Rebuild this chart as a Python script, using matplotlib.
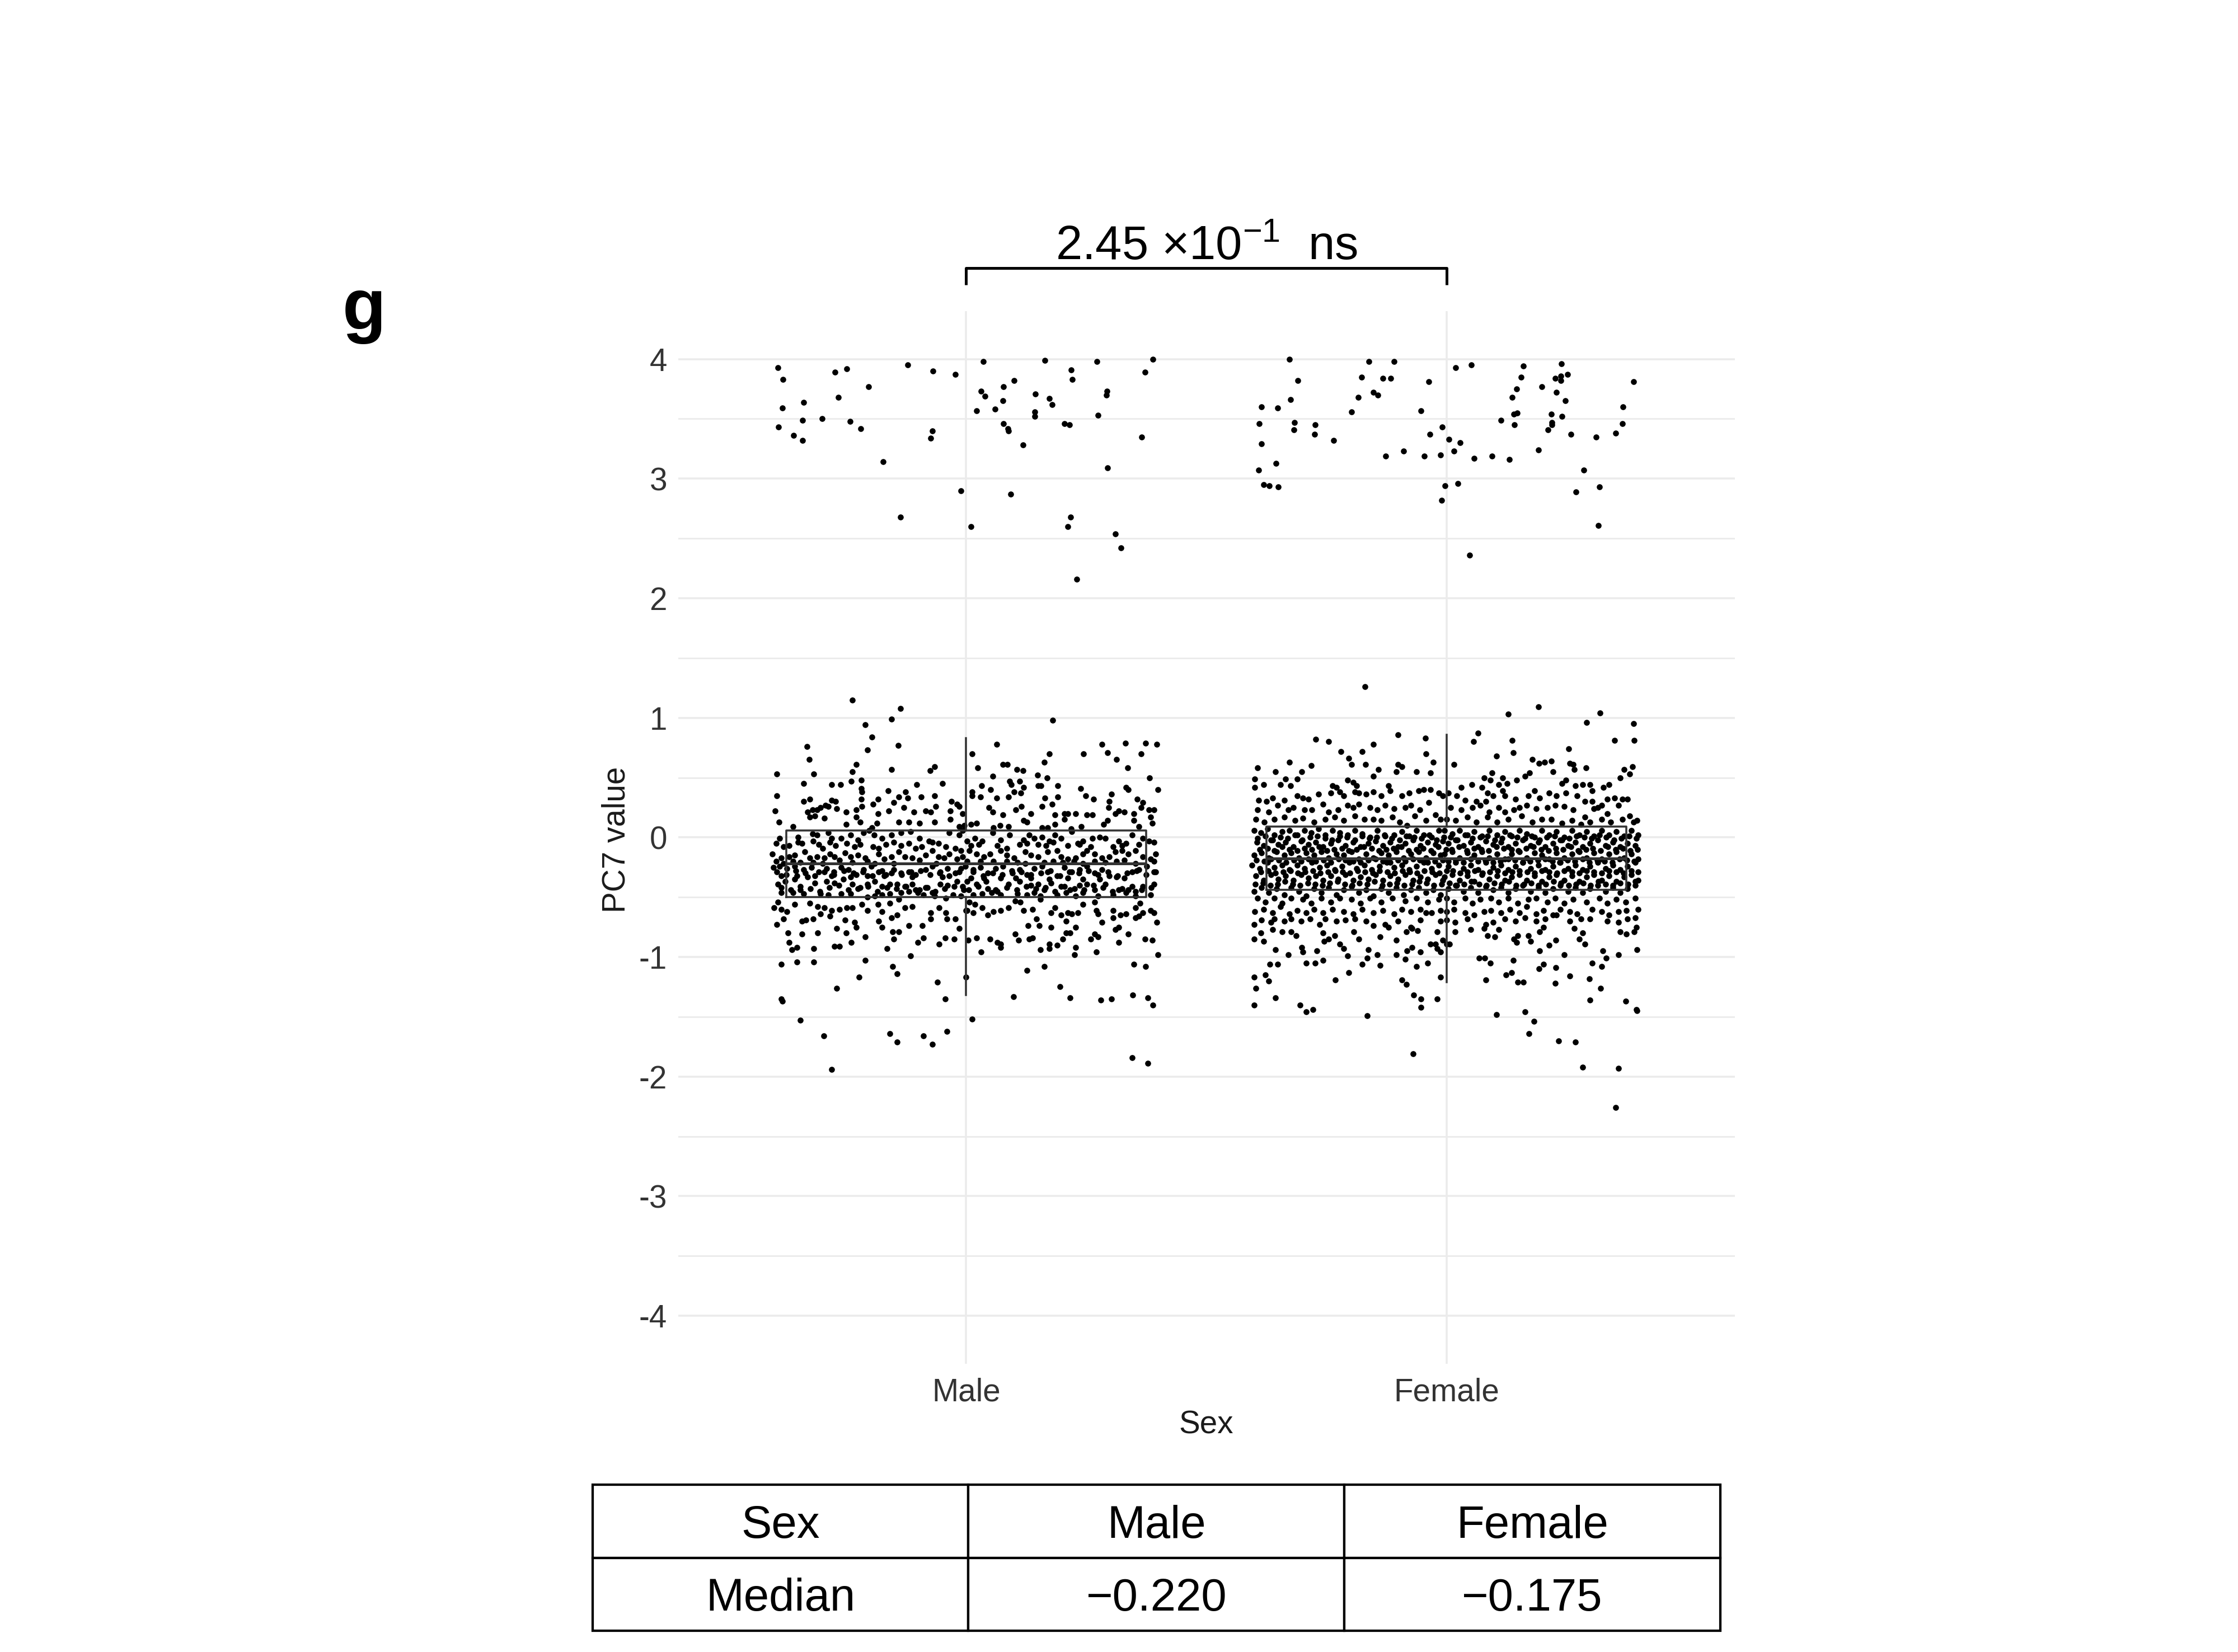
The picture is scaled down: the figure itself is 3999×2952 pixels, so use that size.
import matplotlib.pyplot as plt

plt.rcParams['font.family'] = ['Liberation Sans', 'DejaVu Sans']
plt.rcParams['mathtext.default'] = 'regular'

# groups and summary values
groups = ['Male', 'Female']
medians = [-0.220, -0.175]
q1 = [-0.50, -0.44]
q3 = [0.06, 0.09]
whisker_lo = [-1.32, -1.21]
whisker_hi = [0.83, 0.86]
p_label = '2.45 ×10$^{-1}$  ns'
y_ticks = [4, 3, 2, 1, 0, -1, -2, -3, -4]
y_tick_labels = ['4', '3', '2', '1', '0', '-1', '-2', '-3', '-4']
table_rows = [['Sex', 'Male', 'Female'],
              ['Median', '\u22120.220', '\u22120.175']]

# (jitter offset, PC7 value)
male_points = [
    # upper cluster
    (-0.392,3.93),(-0.382,3.83),(-0.273,3.89),(-0.249,3.92),(-0.122,3.95),(-0.069,3.90),(-0.023,3.87),(0.036,3.98),
    (0.164,3.99),(0.272,3.98),(0.389,4.00),(0.218,3.91),(0.221,3.83),(0.372,3.89),(0.100,3.82),(-0.203,3.77),
    (0.077,3.77),(0.031,3.73),(0.039,3.69),(0.144,3.71),(0.293,3.73),(0.292,3.70),(-0.266,3.68),(-0.338,3.64),
    (0.076,3.65),(0.173,3.67),(0.179,3.62),(-0.383,3.59),(0.022,3.57),(0.060,3.58),(0.143,3.56),(0.143,3.52),
    (0.274,3.53),(-0.341,3.49),(-0.300,3.50),(-0.242,3.48),(-0.391,3.43),(-0.220,3.42),(0.078,3.46),(0.087,3.42),
    (0.088,3.40),(0.205,3.46),(0.215,3.45),(-0.070,3.40),(-0.074,3.34),(-0.359,3.36),(-0.341,3.32),(0.365,3.35),
    (0.118,3.28),(-0.173,3.14),(0.294,3.09),(-0.011,2.90),(0.093,2.87),(-0.137,2.68),(0.010,2.60),(0.217,2.68),
    (0.212,2.60),(0.310,2.54),(0.322,2.42),(0.230,2.16),
    # left half, above box
    (-0.237,1.15),(-0.137,1.08),(-0.156,0.99),(-0.210,0.94),(-0.196,0.84),(-0.331,0.76),(-0.141,0.77),(-0.206,0.73),
    (-0.327,0.65),(-0.394,0.53),(-0.318,0.53),(-0.229,0.61),(-0.237,0.55),(-0.155,0.57),(-0.075,0.56),(-0.066,0.59),
    (-0.338,0.45),(-0.280,0.44),(-0.262,0.44),(-0.240,0.47),(-0.219,0.48),(-0.219,0.41),(-0.217,0.38),(-0.103,0.44),
    (-0.050,0.45),(-0.394,0.35),(-0.162,0.39),(-0.126,0.38),(-0.140,0.34),(-0.122,0.33),(-0.094,0.34),(-0.066,0.35),
    (-0.326,0.32),(-0.338,0.30),(-0.280,0.31),(-0.272,0.30),(-0.219,0.32),(-0.184,0.32),(-0.151,0.29),(-0.194,0.28),
    (-0.031,0.30),(-0.019,0.28),(-0.015,0.26),(-0.398,0.22),(-0.330,0.21),(-0.320,0.23),(-0.311,0.23),(-0.303,0.25),
    (-0.293,0.27),(-0.287,0.26),(-0.270,0.24),(-0.250,0.21),(-0.229,0.23),(-0.217,0.26),(-0.161,0.22),(-0.130,0.25),
    (-0.109,0.21),(-0.085,0.22),(-0.074,0.21),(-0.064,0.26),(-0.033,0.22),(-0.007,0.20),(-0.326,0.17),(-0.315,0.18),
    (-0.295,0.16),(-0.229,0.17),(-0.184,0.20),(-0.390,0.13),(-0.361,0.09),(-0.250,0.11),(-0.221,0.13),(-0.196,0.08),
    (-0.186,0.12),(-0.140,0.13),(-0.120,0.13),(-0.097,0.12),(-0.066,0.13),(-0.033,0.15),(-0.015,0.09),(-0.004,0.10),
    # left half, box region
    (-0.389,-0.01),(-0.350,0.00),(-0.320,0.03),(-0.311,0.02),(-0.287,0.04),(-0.280,-0.01),(-0.260,-0.01),(-0.241,0.02),
    (-0.225,-0.02),(-0.214,0.04),(-0.202,0.06),(-0.192,0.02),(-0.175,-0.01),(-0.155,0.02),(-0.136,0.04),(-0.116,0.05),
    (-0.097,-0.01),(-0.077,-0.03),(-0.035,0.04),(-0.015,0.02),(-0.007,0.06),
    (-0.396,-0.05),(-0.381,-0.08),(-0.369,-0.07),(-0.350,-0.04),(-0.342,-0.05),(-0.319,-0.03),(-0.307,-0.06),(-0.299,-0.09),
    (-0.284,-0.04),(-0.272,-0.07),(-0.249,-0.05),(-0.233,-0.08),(-0.221,-0.06),(-0.194,-0.08),(-0.182,-0.09),(-0.167,-0.06),
    (-0.151,-0.04),(-0.136,-0.07),(-0.120,-0.05),(-0.105,-0.09),(-0.093,-0.08),(-0.070,-0.04),(-0.058,-0.05),(-0.042,-0.08),
    (-0.023,-0.09),(-0.011,-0.11),
    (-0.404,-0.14),(-0.385,-0.17),(-0.369,-0.16),(-0.357,-0.15),(-0.336,-0.12),(-0.326,-0.17),(-0.311,-0.16),(-0.295,-0.17),
    (-0.284,-0.14),(-0.274,-0.16),(-0.264,-0.19),(-0.252,-0.13),(-0.241,-0.16),(-0.225,-0.15),(-0.210,-0.17),(-0.182,-0.14),
    (-0.171,-0.18),(-0.155,-0.16),(-0.140,-0.12),(-0.128,-0.16),(-0.112,-0.17),(-0.097,-0.19),(-0.085,-0.15),(-0.070,-0.11),
    (-0.058,-0.16),(-0.046,-0.17),(-0.035,-0.14),(-0.019,-0.18),(-0.007,-0.16),(-0.396,-0.20),(-0.381,-0.22),(-0.361,-0.20),
    (-0.346,-0.21),(-0.319,-0.21),(-0.299,-0.22),(-0.237,-0.21),(-0.206,-0.20),(-0.190,-0.22),(-0.151,-0.22),(-0.062,-0.22),
    (-0.402,-0.25),(-0.389,-0.24),(-0.373,-0.26),(-0.357,-0.24),(-0.338,-0.27),(-0.322,-0.25),(-0.307,-0.29),(-0.291,-0.26),
    (-0.276,-0.29),(-0.260,-0.25),(-0.245,-0.27),(-0.229,-0.31),(-0.214,-0.27),(-0.198,-0.24),(-0.182,-0.29),(-0.167,-0.31),
    (-0.151,-0.27),(-0.136,-0.30),(-0.120,-0.29),(-0.105,-0.31),(-0.085,-0.27),(-0.070,-0.24),(-0.054,-0.29),(-0.039,-0.26),
    (-0.023,-0.30),(-0.011,-0.26),(-0.385,-0.32),(-0.353,-0.32),(-0.330,-0.33),(-0.280,-0.32),(-0.241,-0.33),(-0.206,-0.32),
    (-0.171,-0.32),(-0.112,-0.33),(-0.050,-0.33),
    (-0.392,-0.39),(-0.377,-0.37),(-0.357,-0.35),(-0.346,-0.44),(-0.315,-0.38),(-0.291,-0.37),(-0.274,-0.38),(-0.256,-0.35),
    (-0.237,-0.39),(-0.221,-0.42),(-0.206,-0.39),(-0.190,-0.37),(-0.175,-0.41),(-0.159,-0.39),(-0.144,-0.39),(-0.128,-0.41),
    (-0.112,-0.39),(-0.097,-0.44),(-0.081,-0.42),(-0.070,-0.46),(-0.054,-0.39),(-0.039,-0.40),(-0.019,-0.37),(-0.007,-0.41),
    (-0.385,-0.46),(-0.361,-0.46),(-0.338,-0.47),(-0.303,-0.47),(-0.287,-0.48),(-0.260,-0.47),(-0.241,-0.47),(-0.206,-0.50),
    (-0.190,-0.49),(-0.175,-0.48),(-0.159,-0.47),(-0.136,-0.46),(-0.120,-0.45),(-0.101,-0.46),(-0.089,-0.48),(-0.066,-0.49),
    (-0.042,-0.51),(-0.027,-0.48),(-0.011,-0.49),
    (-0.395,-0.29),(-0.375,-0.31),(-0.355,-0.28),(-0.335,-0.30),(-0.315,-0.32),(-0.295,-0.29),(-0.275,-0.31),(-0.255,-0.28),
    (-0.235,-0.30),(-0.215,-0.29),(-0.195,-0.32),(-0.175,-0.28),(-0.155,-0.30),(-0.135,-0.31),(-0.115,-0.29),(-0.095,-0.28),
    (-0.075,-0.31),(-0.055,-0.30),(-0.035,-0.32),(-0.015,-0.29),
    (-0.385,-0.42),(-0.365,-0.44),(-0.345,-0.41),(-0.325,-0.43),(-0.305,-0.45),(-0.285,-0.42),(-0.265,-0.40),(-0.245,-0.44),
    (-0.225,-0.43),(-0.205,-0.41),(-0.185,-0.45),(-0.165,-0.42),(-0.145,-0.43),(-0.125,-0.41),(-0.105,-0.44),(-0.085,-0.42),
    (-0.065,-0.45),(-0.045,-0.43),(-0.025,-0.41),(-0.005,-0.44),
    # left half, below box
    (-0.392,-0.54),(-0.400,-0.59),(-0.385,-0.60),(-0.373,-0.62),(-0.357,-0.56),(-0.326,-0.55),(-0.309,-0.58),(-0.295,-0.59),
    (-0.280,-0.61),(-0.264,-0.60),(-0.249,-0.59),(-0.237,-0.59),(-0.217,-0.56),(-0.206,-0.61),(-0.184,-0.56),(-0.175,-0.62),
    (-0.159,-0.55),(-0.140,-0.52),(-0.128,-0.59),(-0.112,-0.58),(-0.074,-0.63),(-0.056,-0.59),(-0.042,-0.63),(0.000,-0.61),
    (-0.394,-0.73),(-0.381,-0.68),(-0.342,-0.70),(-0.334,-0.69),(-0.319,-0.68),(-0.303,-0.64),(-0.284,-0.66),(-0.252,-0.69),
    (-0.233,-0.71),(-0.229,-0.75),(-0.182,-0.70),(-0.175,-0.75),(-0.155,-0.67),(-0.144,-0.65),(-0.120,-0.74),(-0.074,-0.68),
    (-0.040,-0.68),(-0.023,-0.68),(-0.015,-0.76),(-0.371,-0.80),(-0.342,-0.81),(-0.309,-0.80),(-0.270,-0.76),(-0.250,-0.80),
    (-0.210,-0.83),(-0.153,-0.79),(-0.151,-0.85),(-0.140,-0.79),(-0.091,-0.74),(-0.101,-0.88),(-0.089,-0.84),(-0.056,-0.89),
    (-0.044,-0.84),(-0.025,-0.85),(-0.369,-0.88),(-0.363,-0.94),(-0.352,-0.92),(-0.317,-0.93),(-0.274,-0.91),(-0.264,-0.91),
    (-0.239,-0.88),(-0.165,-0.93),(-0.385,-1.06),(-0.352,-1.04),(-0.317,-1.04),(-0.210,-1.03),(-0.116,-0.99),(-0.223,-1.17),
    (-0.153,-1.08),(-0.144,-1.14),(-0.270,-1.26),(-0.060,-1.21),(-0.385,-1.35),(-0.383,-1.37),(-0.044,-1.35),(-0.346,-1.53),
    (-0.297,-1.66),(-0.159,-1.64),(-0.144,-1.71),(-0.089,-1.66),(-0.070,-1.73),(-0.040,-1.62),(-0.280,-1.94),
    # right half, above box
    (0.180,0.98),(0.064,0.78),(0.282,0.78),(0.332,0.79),(0.374,0.79),(0.397,0.78),(0.012,0.70),(0.173,0.70),
    (0.244,0.70),(0.294,0.71),(0.364,0.70),(0.313,0.65),(0.076,0.61),(0.086,0.61),(0.024,0.58),(0.162,0.63),
    (0.105,0.57),(0.118,0.56),(0.336,0.58),(0.055,0.51),(0.148,0.52),(0.168,0.50),(0.382,0.50),(0.090,0.47),
    (0.094,0.44),(0.111,0.47),(0.100,0.38),(0.119,0.42),(0.150,0.43),(0.156,0.43),(0.191,0.43),(0.032,0.43),
    (0.012,0.38),(0.012,0.35),(0.030,0.34),(0.051,0.40),(0.064,0.33),(0.088,0.34),(0.114,0.37),(0.164,0.33),
    (0.191,0.34),(0.238,0.41),(0.249,0.35),(0.265,0.32),(0.302,0.36),(0.333,0.42),(0.337,0.40),(0.399,0.40),
    (0.047,0.25),(0.055,0.21),(0.076,0.19),(0.103,0.23),(0.115,0.26),(0.135,0.20),(0.158,0.26),(0.179,0.28),
    (0.185,0.19),(0.205,0.20),(0.212,0.20),(0.228,0.20),(0.251,0.19),(0.263,0.19),(0.298,0.30),(0.296,0.25),
    (0.310,0.20),(0.317,0.22),(0.329,0.21),(0.356,0.32),(0.368,0.29),(0.364,0.25),(0.380,0.23),(0.391,0.23),
    (0.349,0.20),(0.010,0.11),(0.022,0.12),(0.057,0.08),(0.070,0.10),(0.088,0.09),(0.119,0.14),(0.127,0.13),
    (0.158,0.08),(0.170,0.08),(0.185,0.11),(0.205,0.15),(0.218,0.07),(0.240,0.09),(0.286,0.11),(0.294,0.14),
    (0.349,0.14),(0.360,0.09),(0.384,0.17),(0.387,0.12),
    # right half, box region
    (0.002,-0.03),(0.018,-0.01),(0.033,-0.03),(0.055,0.04),(0.072,-0.02),(0.090,0.02),(0.119,-0.02),(0.131,0.02),
    (0.142,-0.01),(0.158,0.00),(0.173,-0.03),(0.185,0.02),(0.197,-0.01),(0.220,0.05),(0.232,-0.05),(0.243,-0.03),
    (0.263,-0.01),(0.278,0.00),(0.290,-0.01),(0.317,-0.03),(0.333,-0.05),(0.345,0.02),(0.368,-0.01),(0.380,-0.03),
    (0.391,-0.04),(0.010,-0.07),(0.026,-0.06),(0.065,-0.07),(0.084,-0.09),(0.111,-0.06),(0.127,-0.05),(0.150,-0.06),
    (0.166,-0.07),(0.181,-0.04),(0.212,-0.07),(0.236,-0.06),(0.259,-0.08),(0.306,-0.08),(0.325,-0.07),(0.360,-0.06),
    (0.006,-0.11),(0.022,-0.14),(0.037,-0.16),(0.049,-0.14),(0.072,-0.11),(0.084,-0.15),(0.100,-0.17),(0.123,-0.12),
    (0.135,-0.15),(0.150,-0.16),(0.170,-0.12),(0.189,-0.11),(0.197,-0.16),(0.212,-0.18),(0.228,-0.17),(0.243,-0.14),
    (0.251,-0.11),(0.267,-0.14),(0.282,-0.17),(0.298,-0.16),(0.310,-0.12),(0.325,-0.11),(0.337,-0.14),(0.352,-0.11),
    (0.368,-0.16),(0.384,-0.18),(0.395,-0.14),(0.002,-0.20),(0.030,-0.20),(0.057,-0.20),(0.084,-0.20),(0.107,-0.21),
    (0.123,-0.22),(0.162,-0.21),(0.181,-0.20),(0.201,-0.21),(0.224,-0.20),(0.243,-0.22),(0.267,-0.20),(0.290,-0.21),
    (0.313,-0.20),(0.329,-0.19),(0.352,-0.22),(0.391,-0.20),
    (-0.002,-0.24),(0.014,-0.27),(0.030,-0.25),(0.045,-0.30),(0.061,-0.26),(0.076,-0.24),(0.096,-0.30),(0.111,-0.27),
    (0.127,-0.31),(0.142,-0.26),(0.158,-0.24),(0.170,-0.29),(0.189,-0.32),(0.205,-0.25),(0.220,-0.29),(0.236,-0.27),
    (0.251,-0.24),(0.267,-0.30),(0.282,-0.27),(0.298,-0.32),(0.313,-0.33),(0.329,-0.34),(0.345,-0.29),(0.360,-0.27),
    (0.376,-0.24),(0.391,-0.29),(0.010,-0.34),(0.037,-0.34),(0.072,-0.34),(0.103,-0.34),(0.135,-0.34),(0.173,-0.35),
    (0.212,-0.34),(0.243,-0.35),(0.278,-0.35),
    (0.002,-0.37),(0.022,-0.39),(0.041,-0.37),(0.061,-0.44),(0.088,-0.39),(0.111,-0.37),(0.135,-0.40),(0.150,-0.39),
    (0.162,-0.44),(0.177,-0.38),(0.197,-0.41),(0.216,-0.44),(0.236,-0.40),(0.251,-0.39),(0.267,-0.44),(0.290,-0.39),
    (0.317,-0.44),(0.337,-0.44),(0.352,-0.45),(0.368,-0.41),(0.391,-0.39),(0.014,-0.48),(0.033,-0.47),(0.053,-0.46),
    (0.072,-0.48),(0.107,-0.47),(0.127,-0.48),(0.142,-0.46),(0.154,-0.49),(0.189,-0.48),(0.208,-0.46),(0.228,-0.49),
    (0.243,-0.46),(0.275,-0.49),(0.306,-0.48),(0.333,-0.46),(0.352,-0.49),(0.384,-0.48),
    (0.015,-0.29),(0.035,-0.32),(0.055,-0.30),(0.075,-0.31),(0.095,-0.28),(0.115,-0.29),(0.135,-0.31),(0.155,-0.30),
    (0.175,-0.28),(0.195,-0.32),(0.215,-0.29),(0.235,-0.30),(0.255,-0.28),(0.275,-0.31),(0.295,-0.29),(0.315,-0.32),
    (0.335,-0.30),(0.355,-0.28),(0.375,-0.31),(0.395,-0.29),
    (0.005,-0.44),(0.025,-0.41),(0.045,-0.43),(0.065,-0.45),(0.085,-0.42),(0.105,-0.44),(0.125,-0.41),(0.145,-0.43),
    (0.165,-0.42),(0.185,-0.45),(0.205,-0.41),(0.225,-0.43),(0.245,-0.44),(0.265,-0.40),(0.285,-0.42),(0.305,-0.45),
    (0.325,-0.43),(0.345,-0.41),(0.365,-0.44),(0.385,-0.42),
    # right half, below box
    (0.006,-0.54),(0.018,-0.56),(0.002,-0.61),(0.014,-0.63),(0.033,-0.59),(0.045,-0.65),(0.057,-0.62),(0.072,-0.61),
    (0.088,-0.59),(0.102,-0.53),(0.113,-0.54),(0.119,-0.61),(0.138,-0.60),(0.154,-0.52),(0.177,-0.63),(0.185,-0.59),
    (0.197,-0.65),(0.212,-0.63),(0.220,-0.64),(0.232,-0.63),(0.243,-0.56),(0.267,-0.54),(0.271,-0.61),(0.275,-0.64),
    (0.306,-0.61),(0.321,-0.65),(0.333,-0.64),(0.352,-0.59),(0.362,-0.55),(0.368,-0.63),(0.384,-0.61),(0.391,-0.63),
    (0.208,-0.70),(0.352,-0.67),(0.360,-0.66),(0.397,-0.71),(0.282,-0.71),(0.306,-0.67),(0.129,-0.74),(0.146,-0.68),
    (0.152,-0.74),(0.177,-0.75),(0.228,-0.75),(0.310,-0.77),(0.317,-0.75),(0.004,-0.86),(0.022,-0.84),(0.049,-0.85),
    (0.065,-0.88),(0.072,-0.89),(0.072,-0.92),(0.102,-0.81),(0.109,-0.86),(0.131,-0.85),(0.138,-0.84),(0.154,-0.94),
    (0.173,-0.89),(0.189,-0.90),(0.201,-0.85),(0.208,-0.80),(0.216,-0.80),(0.259,-0.85),(0.267,-0.81),(0.275,-0.83),
    (0.317,-0.88),(0.337,-0.81),(0.372,-0.85),(0.387,-0.86),(0.031,-0.96),(0.173,-0.93),(0.228,-0.92),(0.226,-0.98),
    (0.271,-0.96),(0.399,-0.98),(0.127,-1.11),(0.162,-1.08),(0.349,-1.06),(0.374,-1.08),(0.000,-1.17),(0.195,-1.25),
    (0.098,-1.33),(0.216,-1.34),(0.280,-1.36),(0.302,-1.35),(0.347,-1.32),(0.378,-1.34),(0.389,-1.40),(0.012,-1.52),
    (0.345,-1.84),(0.378,-1.89),
]

female_points = [
    # upper cluster
    (-0.327,4.00),(-0.162,3.98),(-0.109,3.98),(0.019,3.93),(0.052,3.95),(0.160,3.94),(0.239,3.96),(-0.309,3.82),
    (-0.177,3.85),(-0.133,3.84),(-0.116,3.84),(-0.037,3.81),(0.155,3.85),(0.227,3.84),(0.238,3.86),(0.238,3.82),
    (0.252,3.87),(0.389,3.81),(0.198,3.77),(0.146,3.75),(0.229,3.72),(-0.152,3.72),(-0.143,3.70),(-0.184,3.68),
    (0.137,3.68),(-0.325,3.66),(0.247,3.65),(-0.385,3.60),(-0.351,3.59),(0.368,3.60),(-0.198,3.56),(-0.053,3.57),
    (0.140,3.54),(0.147,3.55),(0.218,3.54),(0.240,3.52),(0.113,3.49),(-0.390,3.46),(-0.316,3.47),(-0.274,3.45),
    (0.220,3.47),(0.220,3.45),(0.141,3.45),(0.366,3.46),(-0.318,3.41),(-0.009,3.43),(0.211,3.41),(-0.275,3.37),
    (-0.034,3.37),(0.259,3.37),(0.352,3.38),(0.311,3.35),(-0.235,3.32),(0.005,3.33),(0.028,3.30),(-0.385,3.29),
    (0.192,3.24),(-0.089,3.23),(0.015,3.23),(-0.127,3.19),(-0.046,3.19),(-0.012,3.20),(0.058,3.17),(0.095,3.19),
    (0.131,3.16),(-0.355,3.13),(-0.391,3.07),(0.286,3.07),(-0.381,2.95),(-0.369,2.94),(-0.350,2.93),(-0.003,2.94),
    (0.024,2.96),(0.319,2.93),(0.270,2.89),(-0.010,2.82),(0.316,2.61),(0.048,2.36),
    # left half, above box
    (-0.170,1.26),(-0.101,0.86),(-0.044,0.83),(-0.272,0.82),(-0.246,0.80),(-0.152,0.78),(-0.220,0.72),(-0.175,0.72),
    (-0.203,0.66),(-0.327,0.63),(-0.393,0.58),(-0.282,0.60),(-0.198,0.61),(-0.169,0.61),(-0.043,0.70),(-0.027,0.63),
    (-0.101,0.61),(-0.093,0.59),(-0.356,0.55),(-0.301,0.55),(-0.142,0.57),(-0.105,0.55),(-0.062,0.55),(-0.033,0.54),
    (-0.399,0.49),(-0.335,0.49),(-0.311,0.49),(-0.152,0.51),(-0.399,0.42),(-0.381,0.44),(-0.346,0.44),(-0.325,0.43),
    (-0.206,0.48),(-0.194,0.46),(-0.187,0.43),(-0.237,0.43),(-0.229,0.42),(-0.121,0.43),(-0.047,0.40),(-0.016,0.37),
    (-0.391,0.31),(-0.375,0.30),(-0.362,0.33),(-0.338,0.31),(-0.311,0.35),(-0.299,0.33),(-0.288,0.32),(-0.266,0.36),
    (-0.241,0.37),(-0.222,0.38),(-0.214,0.35),(-0.191,0.38),(-0.183,0.37),(-0.167,0.36),(-0.152,0.38),(-0.136,0.35),
    (-0.117,0.39),(-0.093,0.35),(-0.078,0.37),(-0.058,0.39),(-0.033,0.40),(-0.008,0.35),(-0.393,0.23),(-0.370,0.21),
    (-0.352,0.27),(-0.329,0.23),(-0.319,0.25),(-0.296,0.23),(-0.280,0.23),(-0.257,0.28),(-0.245,0.21),(-0.226,0.23),
    (-0.206,0.27),(-0.194,0.25),(-0.183,0.28),(-0.159,0.25),(-0.144,0.23),(-0.128,0.27),(-0.109,0.24),(-0.086,0.25),
    (-0.074,0.27),(-0.056,0.23),(-0.037,0.29),(-0.023,0.19),(-0.397,0.15),(-0.379,0.13),(-0.358,0.15),(-0.338,0.17),
    (-0.315,0.14),(-0.299,0.16),(-0.276,0.13),(-0.253,0.15),(-0.233,0.17),(-0.214,0.14),(-0.191,0.18),(-0.171,0.15),
    (-0.152,0.15),(-0.136,0.14),(-0.113,0.17),(-0.097,0.13),(-0.082,0.10),(-0.066,0.18),(-0.043,0.14),(-0.012,0.15),
    # left half, box region
    (-0.401,0.06),(-0.387,0.04),(-0.373,0.07),(-0.358,0.02),(-0.342,0.05),(-0.327,0.06),(-0.311,0.02),(-0.296,0.06),
    (-0.282,0.04),(-0.266,0.07),(-0.253,0.02),(-0.237,0.06),(-0.222,0.04),(-0.206,0.02),(-0.191,0.06),(-0.175,0.03),
    (-0.159,0.00),(-0.144,0.06),(-0.128,0.01),(-0.109,0.02),(-0.093,0.05),(-0.078,0.01),(-0.062,0.06),(-0.047,0.02),
    (-0.031,0.00),(-0.016,0.06),
    (-0.395,-0.04),(-0.381,-0.07),(-0.366,-0.02),(-0.350,-0.06),(-0.335,-0.04),(-0.319,-0.08),(-0.303,-0.03),(-0.288,-0.06),
    (-0.272,-0.04),(-0.257,-0.08),(-0.241,-0.05),(-0.226,-0.02),(-0.210,-0.07),(-0.194,-0.04),(-0.179,-0.08),(-0.163,-0.05),
    (-0.148,-0.03),(-0.132,-0.07),(-0.117,-0.04),(-0.101,-0.08),(-0.086,-0.05),(-0.070,-0.02),(-0.054,-0.07),(-0.039,-0.04),
    (-0.023,-0.06),(-0.008,-0.03),
    (-0.401,-0.15),(-0.385,-0.13),(-0.370,-0.17),(-0.354,-0.12),(-0.338,-0.15),(-0.323,-0.13),(-0.307,-0.17),(-0.292,-0.13),
    (-0.276,-0.15),(-0.261,-0.12),(-0.245,-0.17),(-0.229,-0.14),(-0.214,-0.15),(-0.198,-0.12),(-0.183,-0.18),(-0.167,-0.14),
    (-0.152,-0.17),(-0.136,-0.13),(-0.121,-0.15),(-0.105,-0.12),(-0.089,-0.17),(-0.074,-0.14),(-0.058,-0.12),(-0.043,-0.17),
    (-0.027,-0.13),(-0.012,-0.15),
    (-0.405,-0.23),(-0.389,-0.26),(-0.373,-0.21),(-0.358,-0.25),(-0.342,-0.23),(-0.327,-0.27),(-0.311,-0.23),(-0.296,-0.26),
    (-0.280,-0.21),(-0.264,-0.25),(-0.249,-0.23),(-0.233,-0.27),(-0.218,-0.24),(-0.202,-0.21),(-0.187,-0.26),(-0.171,-0.23),
    (-0.156,-0.27),(-0.140,-0.24),(-0.124,-0.21),(-0.109,-0.25),(-0.093,-0.23),(-0.078,-0.27),(-0.062,-0.24),(-0.047,-0.21),
    (-0.031,-0.26),(-0.016,-0.23),
    (-0.397,-0.32),(-0.381,-0.36),(-0.366,-0.31),(-0.350,-0.35),(-0.335,-0.32),(-0.319,-0.36),(-0.303,-0.31),(-0.288,-0.34),
    (-0.272,-0.32),(-0.257,-0.36),(-0.241,-0.32),(-0.226,-0.35),(-0.210,-0.31),(-0.194,-0.36),(-0.179,-0.33),(-0.163,-0.35),
    (-0.148,-0.31),(-0.132,-0.36),(-0.117,-0.32),(-0.101,-0.35),(-0.086,-0.31),(-0.070,-0.36),(-0.054,-0.33),(-0.039,-0.35),
    (-0.023,-0.31),(-0.008,-0.36),
    (-0.401,-0.45),(-0.385,-0.42),(-0.370,-0.46),(-0.354,-0.43),(-0.338,-0.48),(-0.323,-0.42),(-0.307,-0.45),(-0.292,-0.49),
    (-0.276,-0.43),(-0.261,-0.46),(-0.245,-0.42),(-0.229,-0.48),(-0.214,-0.44),(-0.198,-0.41),(-0.183,-0.46),(-0.167,-0.44),
    (-0.152,-0.49),(-0.136,-0.43),(-0.121,-0.46),(-0.105,-0.42),(-0.089,-0.48),(-0.074,-0.44),(-0.058,-0.42),(-0.043,-0.46),
    (-0.027,-0.44),(-0.012,-0.48),
    (-0.393,-0.01),(-0.377,0.01),(-0.362,-0.02),(-0.346,0.00),(-0.331,-0.01),(-0.315,0.02),(-0.300,-0.02),(-0.284,0.00),
    (-0.269,0.01),(-0.253,-0.01),(-0.238,-0.02),(-0.222,0.01),(-0.207,0.00),(-0.191,-0.02),(-0.176,0.01),(-0.160,-0.01),
    (-0.145,0.00),(-0.129,0.02),(-0.114,-0.01),(-0.098,-0.02),(-0.083,0.01),(-0.067,0.00),(-0.052,-0.01),(-0.036,0.02),
    (-0.021,-0.02),(-0.005,0.00),
    (-0.389,-0.10),(-0.373,-0.09),(-0.358,-0.11),(-0.342,-0.08),(-0.327,-0.10),(-0.311,-0.11),(-0.296,-0.09),(-0.280,-0.10),
    (-0.265,-0.08),(-0.249,-0.11),(-0.234,-0.10),(-0.218,-0.09),(-0.203,-0.11),(-0.187,-0.10),(-0.172,-0.08),(-0.156,-0.09),
    (-0.141,-0.11),(-0.125,-0.10),(-0.110,-0.09),(-0.094,-0.08),(-0.079,-0.11),(-0.063,-0.10),(-0.048,-0.09),(-0.032,-0.11),
    (-0.017,-0.08),(-0.001,-0.10),
    (-0.396,-0.19),(-0.380,-0.20),(-0.365,-0.18),(-0.349,-0.19),(-0.334,-0.21),(-0.318,-0.19),(-0.303,-0.20),(-0.287,-0.18),
    (-0.272,-0.20),(-0.256,-0.19),(-0.241,-0.21),(-0.225,-0.18),(-0.210,-0.19),(-0.194,-0.20),(-0.179,-0.21),(-0.163,-0.19),
    (-0.148,-0.18),(-0.132,-0.20),(-0.117,-0.21),(-0.101,-0.19),(-0.086,-0.20),(-0.070,-0.18),(-0.055,-0.19),(-0.039,-0.21),
    (-0.024,-0.20),(-0.008,-0.19),
    (-0.387,-0.29),(-0.371,-0.28),(-0.356,-0.30),(-0.340,-0.29),(-0.325,-0.28),(-0.309,-0.30),(-0.294,-0.29),(-0.278,-0.28),
    (-0.263,-0.30),(-0.247,-0.29),(-0.232,-0.28),(-0.216,-0.29),(-0.201,-0.30),(-0.185,-0.28),(-0.170,-0.29),(-0.154,-0.30),
    (-0.139,-0.28),(-0.123,-0.29),(-0.108,-0.30),(-0.092,-0.28),(-0.077,-0.29),(-0.061,-0.30),(-0.046,-0.28),(-0.030,-0.29),
    (-0.015,-0.30),(0.000,-0.28),
    (-0.398,-0.39),(-0.382,-0.38),(-0.367,-0.40),(-0.351,-0.39),(-0.336,-0.37),(-0.320,-0.39),(-0.305,-0.40),(-0.289,-0.38),
    (-0.274,-0.39),(-0.258,-0.40),(-0.243,-0.38),(-0.227,-0.37),(-0.212,-0.39),(-0.196,-0.40),(-0.181,-0.38),(-0.165,-0.39),
    (-0.150,-0.37),(-0.134,-0.40),(-0.119,-0.39),(-0.103,-0.38),(-0.088,-0.40),(-0.072,-0.39),(-0.057,-0.37),(-0.041,-0.38),
    (-0.026,-0.40),(-0.010,-0.39),
    # left half, below box
    (-0.393,-0.51),(-0.377,-0.54),(-0.358,-0.51),(-0.342,-0.55),(-0.323,-0.51),(-0.299,-0.52),(-0.282,-0.55),(-0.261,-0.51),
    (-0.241,-0.54),(-0.222,-0.51),(-0.198,-0.52),(-0.179,-0.55),(-0.159,-0.51),(-0.136,-0.54),(-0.113,-0.51),(-0.086,-0.53),
    (-0.062,-0.51),(-0.039,-0.54),(-0.016,-0.52),
    (-0.399,-0.62),(-0.381,-0.60),(-0.362,-0.63),(-0.346,-0.58),(-0.327,-0.64),(-0.311,-0.61),(-0.292,-0.63),(-0.276,-0.60),
    (-0.257,-0.63),(-0.237,-0.60),(-0.214,-0.62),(-0.194,-0.64),(-0.175,-0.60),(-0.152,-0.63),(-0.132,-0.61),(-0.109,-0.64),
    (-0.093,-0.60),(-0.074,-0.62),(-0.054,-0.60),(-0.031,-0.63),(-0.012,-0.61),
    (-0.401,-0.73),(-0.385,-0.69),(-0.366,-0.71),(-0.358,-0.68),(-0.338,-0.70),(-0.323,-0.68),(-0.303,-0.70),(-0.284,-0.68),
    (-0.264,-0.73),(-0.253,-0.68),(-0.229,-0.70),(-0.210,-0.69),(-0.191,-0.68),(-0.167,-0.70),(-0.152,-0.74),(-0.128,-0.73),
    (-0.101,-0.70),(-0.074,-0.75),(-0.054,-0.69),(-0.043,-0.63),(-0.012,-0.70),
    (-0.401,-0.85),(-0.387,-0.80),(-0.381,-0.87),(-0.362,-0.77),(-0.342,-0.79),(-0.323,-0.79),(-0.313,-0.82),(-0.257,-0.80),
    (-0.255,-0.87),(-0.245,-0.85),(-0.233,-0.82),(-0.222,-0.89),(-0.193,-0.79),(-0.183,-0.85),(-0.138,-0.83),(-0.121,-0.75),
    (-0.105,-0.86),(-0.084,-0.79),(-0.072,-0.76),(-0.060,-0.78),(-0.019,-0.79),(-0.023,-0.89),(-0.008,-0.86),
    (-0.356,-0.94),(-0.329,-0.98),(-0.301,-0.92),(-0.299,-0.96),(-0.270,-0.95),(-0.214,-0.93),(-0.206,-0.99),(-0.163,-0.94),
    (-0.144,-0.98),(-0.105,-0.98),(-0.082,-0.95),(-0.072,-0.92),(-0.054,-0.96),(-0.033,-0.89),(-0.019,-0.93),(-0.012,-0.96),
    (-0.368,-1.06),(-0.352,-1.06),(-0.292,-1.05),(-0.274,-1.05),(-0.257,-1.03),(-0.204,-1.13),(-0.175,-1.06),(-0.165,-1.01),
    (-0.138,-1.07),(-0.086,-1.02),(-0.062,-1.08),(-0.039,-1.05),(-0.401,-1.17),(-0.377,-1.15),(-0.370,-1.20),(-0.231,-1.19),
    (-0.093,-1.19),(-0.084,-1.23),(-0.012,-1.17),(-0.397,-1.26),(-0.356,-1.34),(-0.401,-1.40),(-0.305,-1.40),(-0.292,-1.46),
    (-0.278,-1.44),(-0.165,-1.49),(-0.068,-1.32),(-0.053,-1.35),(-0.053,-1.42),(-0.019,-1.35),(-0.070,-1.81),
    # right half, above box
    (0.191,1.09),(0.128,1.03),(0.320,1.04),(0.292,0.96),(0.390,0.95),(0.066,0.87),(0.056,0.80),(0.137,0.81),
    (0.350,0.81),(0.391,0.81),(0.139,0.71),(0.104,0.68),(0.254,0.74),(0.016,0.61),(0.179,0.65),(0.193,0.62),
    (0.204,0.63),(0.218,0.64),(0.257,0.62),(0.264,0.61),(0.266,0.57),(0.222,0.55),(0.290,0.58),(0.370,0.57),
    (0.387,0.59),(0.381,0.53),(0.362,0.50),(0.095,0.54),(0.078,0.50),(0.091,0.48),(0.117,0.50),(0.126,0.45),
    (0.146,0.48),(0.163,0.51),(0.173,0.54),(0.249,0.48),(0.241,0.45),(0.053,0.44),(0.031,0.42),(0.074,0.42),
    (0.086,0.37),(0.109,0.44),(0.117,0.39),(0.268,0.43),(0.284,0.44),(0.299,0.44),(0.303,0.39),(0.327,0.42),
    (0.338,0.44),(0.004,0.37),(0.021,0.35),(0.039,0.31),(0.062,0.30),(0.082,0.30),(0.097,0.35),(0.121,0.35),
    (0.144,0.32),(0.171,0.35),(0.183,0.39),(0.194,0.33),(0.214,0.37),(0.229,0.35),(0.249,0.37),(0.272,0.35),
    (0.288,0.30),(0.303,0.30),(0.323,0.27),(0.335,0.32),(0.350,0.33),(0.366,0.32),(0.377,0.32),(0.008,0.25),
    (0.031,0.23),(0.054,0.25),(0.070,0.27),(0.089,0.21),(0.109,0.25),(0.121,0.21),(0.140,0.23),(0.152,0.25),
    (0.167,0.27),(0.187,0.24),(0.210,0.25),(0.226,0.27),(0.245,0.26),(0.264,0.23),(0.288,0.17),(0.307,0.24),
    (0.315,0.25),(0.335,0.20),(0.358,0.27),(0.381,0.18),(0.397,0.14),(0.000,0.15),(0.019,0.14),(0.043,0.17),
    (0.062,0.13),(0.086,0.17),(0.105,0.13),(0.128,0.15),(0.156,0.18),(0.179,0.13),(0.198,0.15),(0.218,0.15),
    (0.241,0.12),(0.261,0.14),(0.280,0.11),(0.299,0.13),(0.323,0.15),(0.342,0.13),(0.366,0.15),(0.389,0.13),
    # right half, box region
    (-0.004,0.06),(0.012,0.03),(0.027,0.06),(0.043,0.02),(0.058,0.05),(0.074,0.01),(0.089,0.06),(0.105,0.02),
    (0.121,0.05),(0.136,0.01),(0.152,0.06),(0.167,0.03),(0.183,0.00),(0.198,0.06),(0.214,0.02),(0.229,0.05),
    (0.245,0.00),(0.261,0.06),(0.276,0.02),(0.292,0.05),(0.307,0.01),(0.323,0.06),(0.338,0.02),(0.354,0.05),
    (0.370,0.01),(0.385,0.06),(0.399,0.02),
    (0.004,-0.05),(0.019,-0.02),(0.035,-0.07),(0.051,-0.04),(0.066,-0.08),(0.082,-0.03),(0.097,-0.06),(0.113,-0.04),
    (0.128,-0.08),(0.144,-0.05),(0.159,-0.02),(0.175,-0.07),(0.191,-0.04),(0.206,-0.08),(0.222,-0.05),(0.237,-0.02),
    (0.253,-0.07),(0.268,-0.04),(0.284,-0.08),(0.299,-0.05),(0.315,-0.02),(0.331,-0.07),(0.346,-0.04),(0.362,-0.08),
    (0.377,-0.05),(0.393,-0.07),
    (-0.004,-0.14),(0.012,-0.12),(0.027,-0.17),(0.043,-0.13),(0.058,-0.15),(0.074,-0.12),(0.089,-0.17),(0.105,-0.14),
    (0.121,-0.18),(0.136,-0.14),(0.152,-0.12),(0.167,-0.17),(0.183,-0.13),(0.198,-0.15),(0.214,-0.18),(0.229,-0.13),
    (0.245,-0.17),(0.261,-0.14),(0.276,-0.12),(0.292,-0.17),(0.307,-0.13),(0.323,-0.18),(0.338,-0.14),(0.354,-0.12),
    (0.370,-0.17),(0.385,-0.14),(0.399,-0.18),
    (0.004,-0.24),(0.019,-0.21),(0.035,-0.26),(0.051,-0.23),(0.066,-0.27),(0.082,-0.21),(0.097,-0.25),(0.113,-0.23),
    (0.128,-0.27),(0.144,-0.24),(0.159,-0.21),(0.175,-0.26),(0.191,-0.23),(0.206,-0.27),(0.222,-0.24),(0.237,-0.21),
    (0.253,-0.26),(0.268,-0.23),(0.284,-0.27),(0.299,-0.24),(0.315,-0.21),(0.331,-0.26),(0.346,-0.23),(0.362,-0.27),
    (0.377,-0.24),(0.393,-0.21),
    (-0.004,-0.33),(0.012,-0.31),(0.027,-0.36),(0.043,-0.32),(0.058,-0.37),(0.074,-0.31),(0.089,-0.35),(0.105,-0.32),
    (0.121,-0.36),(0.136,-0.33),(0.152,-0.31),(0.167,-0.36),(0.183,-0.32),(0.198,-0.37),(0.214,-0.33),(0.229,-0.31),
    (0.245,-0.36),(0.261,-0.32),(0.276,-0.37),(0.292,-0.33),(0.307,-0.31),(0.323,-0.36),(0.338,-0.32),(0.354,-0.37),
    (0.370,-0.33),(0.385,-0.31),(0.399,-0.36),
    (0.004,-0.43),(0.019,-0.40),(0.035,-0.45),(0.051,-0.42),(0.066,-0.46),(0.082,-0.41),(0.097,-0.44),(0.113,-0.42),
    (0.128,-0.46),(0.144,-0.43),(0.159,-0.40),(0.175,-0.45),(0.191,-0.42),(0.206,-0.46),(0.222,-0.43),(0.237,-0.40),
    (0.253,-0.45),(0.268,-0.42),(0.284,-0.46),(0.299,-0.43),(0.315,-0.40),(0.331,-0.45),(0.346,-0.42),(0.362,-0.46),
    (0.377,-0.43),(0.393,-0.40),
    (0.008,0.00),(0.023,-0.02),(0.039,0.02),(0.054,-0.01),(0.070,0.00),(0.085,0.01),(0.101,-0.02),(0.116,-0.01),
    (0.132,0.02),(0.147,0.00),(0.163,-0.01),(0.178,0.01),(0.194,-0.02),(0.209,0.00),(0.225,0.01),(0.240,-0.02),
    (0.256,-0.01),(0.271,0.01),(0.287,0.00),(0.302,-0.01),(0.318,0.02),(0.333,0.00),(0.349,-0.02),(0.364,-0.01),
    (0.380,0.01),(0.395,-0.01),
    (0.011,-0.10),(0.026,-0.08),(0.042,-0.11),(0.057,-0.09),(0.073,-0.10),(0.088,-0.11),(0.104,-0.08),(0.119,-0.09),
    (0.135,-0.10),(0.150,-0.11),(0.166,-0.09),(0.181,-0.08),(0.197,-0.10),(0.212,-0.11),(0.228,-0.09),(0.243,-0.10),
    (0.259,-0.08),(0.274,-0.11),(0.290,-0.10),(0.305,-0.09),(0.321,-0.11),(0.336,-0.08),(0.352,-0.10),(0.367,-0.09),
    (0.383,-0.11),(0.398,-0.10),
    (0.004,-0.20),(0.019,-0.19),(0.035,-0.21),(0.050,-0.18),(0.066,-0.20),(0.081,-0.19),(0.097,-0.21),(0.112,-0.20),
    (0.128,-0.18),(0.143,-0.19),(0.159,-0.21),(0.174,-0.20),(0.190,-0.19),(0.205,-0.18),(0.221,-0.20),(0.236,-0.21),
    (0.252,-0.19),(0.267,-0.20),(0.283,-0.18),(0.298,-0.21),(0.314,-0.19),(0.329,-0.20),(0.345,-0.21),(0.360,-0.18),
    (0.376,-0.19),(0.391,-0.20),
    (0.013,-0.28),(0.028,-0.30),(0.044,-0.29),(0.059,-0.28),(0.075,-0.30),(0.090,-0.29),(0.106,-0.28),(0.121,-0.30),
    (0.137,-0.29),(0.152,-0.28),(0.168,-0.29),(0.183,-0.30),(0.199,-0.28),(0.214,-0.29),(0.230,-0.30),(0.245,-0.28),
    (0.261,-0.29),(0.276,-0.30),(0.292,-0.28),(0.307,-0.29),(0.323,-0.30),(0.338,-0.28),(0.354,-0.29),(0.369,-0.30),
    (0.385,-0.28),(0.399,-0.29),
    (0.006,-0.38),(0.021,-0.40),(0.037,-0.39),(0.052,-0.37),(0.068,-0.39),(0.083,-0.40),(0.099,-0.38),(0.114,-0.39),
    (0.130,-0.37),(0.145,-0.40),(0.161,-0.39),(0.176,-0.38),(0.192,-0.40),(0.207,-0.39),(0.223,-0.37),(0.238,-0.38),
    (0.254,-0.40),(0.269,-0.39),(0.285,-0.38),(0.300,-0.40),(0.316,-0.37),(0.331,-0.39),(0.347,-0.40),(0.362,-0.38),
    (0.378,-0.39),(0.393,-0.37),
    # right half, below box
    (0.000,-0.51),(0.016,-0.54),(0.039,-0.51),(0.054,-0.55),(0.070,-0.52),(0.093,-0.51),(0.109,-0.54),(0.128,-0.51),
    (0.148,-0.55),(0.171,-0.52),(0.187,-0.51),(0.210,-0.54),(0.226,-0.51),(0.245,-0.55),(0.264,-0.52),(0.292,-0.54),
    (0.319,-0.51),(0.335,-0.55),(0.354,-0.52),(0.373,-0.54),(0.393,-0.51),
    (0.000,-0.62),(0.016,-0.60),(0.039,-0.63),(0.058,-0.65),(0.078,-0.62),(0.093,-0.61),(0.113,-0.63),(0.132,-0.60),
    (0.152,-0.63),(0.167,-0.58),(0.187,-0.64),(0.202,-0.61),(0.222,-0.65),(0.237,-0.60),(0.257,-0.62),(0.272,-0.64),
    (0.303,-0.60),(0.323,-0.62),(0.338,-0.65),(0.358,-0.62),(0.375,-0.61),(0.399,-0.60),
    (0.000,-0.69),(0.018,-0.71),(0.043,-0.68),(0.082,-0.73),(0.097,-0.71),(0.121,-0.68),(0.144,-0.70),(0.163,-0.67),
    (0.187,-0.70),(0.206,-0.68),(0.229,-0.65),(0.257,-0.70),(0.280,-0.68),(0.299,-0.68),(0.335,-0.70),(0.358,-0.71),
    (0.377,-0.68),(0.393,-0.67),
    (0.018,-0.79),(0.051,-0.77),(0.078,-0.76),(0.086,-0.82),(0.101,-0.83),(0.109,-0.77),(0.140,-0.85),(0.148,-0.82),
    (0.146,-0.88),(0.171,-0.82),(0.175,-0.87),(0.194,-0.79),(0.202,-0.75),(0.266,-0.76),(0.276,-0.85),(0.284,-0.80),
    (0.288,-0.89),(0.362,-0.79),(0.375,-0.81),(0.391,-0.79),(0.395,-0.75),(0.000,-0.89),(0.006,-0.89),(0.214,-0.90),
    (0.228,-0.86),(0.194,-0.95),(0.245,-0.98),(0.325,-0.95),(0.358,-0.98),(0.397,-0.94),(0.068,-1.01),(0.080,-1.01),
    (0.091,-1.05),(0.139,-1.03),(0.202,-1.06),(0.193,-1.10),(0.228,-1.09),(0.303,-1.05),(0.323,-1.08),(0.333,-1.01),
    (0.124,-1.15),(0.136,-1.13),(0.082,-1.19),(0.148,-1.21),(0.160,-1.21),(0.226,-1.22),(0.257,-1.16),(0.298,-1.18),
    (0.321,-1.26),(0.299,-1.36),(0.373,-1.37),(0.395,-1.44),(0.397,-1.45),(0.104,-1.48),(0.163,-1.46),(0.182,-1.54),
    (0.172,-1.64),(0.234,-1.70),(0.268,-1.71),(0.283,-1.92),(0.358,-1.93),(0.352,-2.26),
]

fig = plt.figure(figsize=(15.68, 11.572), dpi=255.1)
ax = fig.add_axes([0.3029, 0.1746, 0.4720, 0.6370])

# jittered points
for i, pts in enumerate([male_points, female_points]):
    xs = [i + 1 + o for o, v in pts]
    ys = [v for o, v in pts]
    ax.scatter(xs, ys, s=9, c='black', linewidths=0, zorder=2)

# boxplots from the summary values
stats = []
for i in range(len(groups)):
    stats.append(dict(med=medians[i], q1=q1[i], q3=q3[i],
                      whislo=whisker_lo[i], whishi=whisker_hi[i], fliers=[]))
ax.bxp(stats, positions=[1, 2], widths=0.75, showcaps=False, showfliers=False,
       boxprops=dict(color='#333333', linewidth=1.0),
       whiskerprops=dict(color='#333333', linewidth=1.0),
       medianprops=dict(color='#333333', linewidth=1.4),
       manage_ticks=False, zorder=3)

ax.set_xlim(0.4, 2.6)
ax.set_ylim(-4.4, 4.4)
ax.set_xticks([1, 2])
ax.set_xticklabels(groups)
ax.set_yticks(y_ticks)
ax.set_yticklabels(y_tick_labels)
ax.set_yticks([v + 0.5 for v in range(-4, 4)], minor=True)
ax.grid(which='major', color='#EBEBEB', linewidth=1.0, zorder=0)
ax.grid(which='minor', axis='y', color='#EBEBEB', linewidth=0.8, zorder=0)
ax.set_axisbelow(True)
ax.tick_params(which='both', length=0, labelsize=16, labelcolor='#333333')
ax.tick_params(axis='y', pad=5.5)
ax.tick_params(axis='x', pad=7)
for s in ax.spines.values():
    s.set_visible(False)

fig.text(0.5389, 0.1374, 'Sex', fontsize=16, ha='center', va='center', color='#1A1A1A')
fig.text(0.2755, 0.4918, 'PC7 value', fontsize=16, ha='center', va='center',
         rotation=90, color='#1A1A1A')

# significance bracket
ax.plot([1, 1, 2, 2], [4.62, 4.76, 4.76, 4.62], color='black', linewidth=1.4,
        clip_on=False, solid_capstyle='butt')
ax.text(1.5, 4.83, p_label, fontsize=24, ha='center', va='baseline', clip_on=False)

# panel letter
fig.text(0.1626, 0.8008, 'g', fontsize=36, fontweight='bold', ha='center', va='baseline')

# median table
tax = fig.add_axes([0.26467, 0.01296, 0.50383, 0.08816])
tax.axis('off')
tbl = tax.table(cellText=table_rows, cellLoc='center', bbox=[0, 0, 1, 1])
tbl.auto_set_font_size(False)
tbl.set_fontsize(23)
for cell in tbl.get_celld().values():
    cell.set_linewidth(1.2)
    cell.set_edgecolor('black')
    cell.get_text().set_va('center_baseline')

fig.savefig('out.png', dpi=255.1)
